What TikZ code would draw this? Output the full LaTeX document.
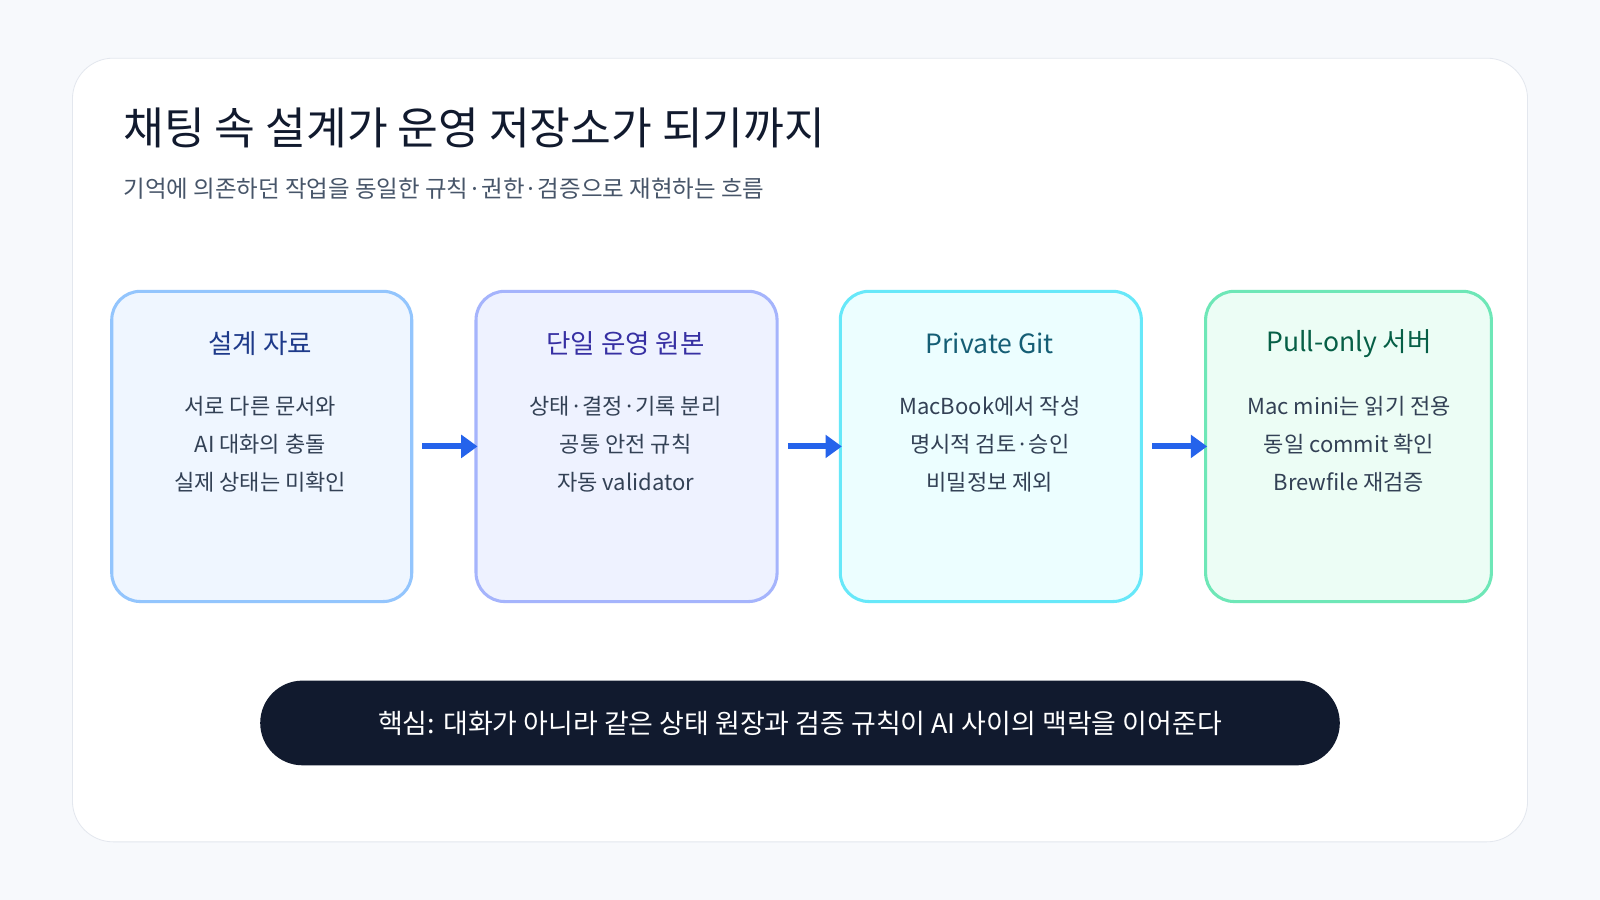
\documentclass[tikz,border=0pt]{standalone}
\usepackage{fontspec}
\setmainfont{Noto Sans CJK KR}
\usetikzlibrary{arrows.meta,positioning}
\definecolor{bg}{HTML}{F7F9FC}
\definecolor{cardline}{HTML}{E3E7EE}
\definecolor{ink}{HTML}{111A2E}
\definecolor{sub}{HTML}{475569}
\definecolor{body}{HTML}{334155}
\definecolor{flow}{HTML}{2563EB}
\definecolor{docsD}{HTML}{93C5FD}\definecolor{docsF}{HTML}{EFF6FF}\definecolor{docsH}{HTML}{1E3A8A}
\definecolor{singleD}{HTML}{A5B4FC}\definecolor{singleF}{HTML}{EEF2FF}\definecolor{singleH}{HTML}{3730A3}
\definecolor{gitD}{HTML}{67E8F9}\definecolor{gitF}{HTML}{ECFEFF}\definecolor{gitH}{HTML}{155E75}
\definecolor{pullD}{HTML}{6EE7B7}\definecolor{pullF}{HTML}{ECFDF5}\definecolor{pullH}{HTML}{065F46}
\tikzset{
  stage/.style={draw=#1D, fill=#1F, line width=1.5pt, rounded corners=14pt, anchor=north west},
  head/.style={font=\fontsize{13}{15}\selectfont, text=#1},
  bodyline/.style={font=\fontsize{10.8}{12}\selectfont, text=body},
  flowstep/.style={-{Triangle[length=8pt,width=11pt]}, line width=3pt, draw=flow, shorten <=4.5pt, shorten >=-1.5pt}
}
\begin{document}
\begin{tikzpicture}[x=0.5pt,y=-0.5pt]
\fill[bg] (0,0) rectangle (1568,882);
\useasboundingbox (0,0) rectangle (1568,882);
\draw[cardline, fill=white, rounded corners=20pt] (71,57) rectangle (1497,825);
\node[anchor=west, font=\fontsize{21.7}{24}\selectfont, text=ink] (title) at (114,125) {채팅 속 설계가 운영 저장소가 되기까지};
\node[anchor=west, font=\fontsize{11.5}{13}\selectfont, text=sub] (subtitle) at (114,185) {기억에 의존하던 작업을 동일한 규칙·권한·검증으로 재현하는 흐름};
% stage boxes
\node[stage=docs, minimum width=147pt, minimum height=152pt] (docs) at (108,284) {};
\node[stage=single, minimum width=147.5pt, minimum height=152pt] (single) at (465,284) {};
\node[stage=git, minimum width=147.5pt, minimum height=152pt] (git) at (822,284) {};
\node[stage=pull, minimum width=140pt, minimum height=152pt] (pull) at (1180,284) {};
% titles and lines
\node[head=docsH] (docsT) at (255,337) {설계 자료};
\node[bodyline] at (255,398) {서로 다른 문서와};
\node[bodyline] at (255,435) {AI 대화의 충돌};
\node[bodyline] at (255,473) {실제 상태는 미확인};
\node[head=singleH] (singleT) at (613,337) {단일 운영 원본};
\node[bodyline] at (613,398) {상태·결정·기록 분리};
\node[bodyline] at (613,435) {공통 안전 규칙};
\node[bodyline] at (613,473) {자동 validator};
\node[head=gitH] (gitT) at (970,337) {Private Git};
\node[bodyline] at (970,398) {MacBook에서 작성};
\node[bodyline] at (970,435) {명시적 검토·승인};
\node[bodyline] at (970,473) {비밀정보 제외};
\node[head=pullH] (pullT) at (1322,337) {Pull-only 서버};
\node[bodyline] at (1322,398) {Mac mini는 읽기 전용};
\node[bodyline] at (1322,435) {동일 commit 확인};
\node[bodyline] at (1322,473) {Brewfile 재검증};
% flow
\draw[flowstep] (docs) -- (single);
\draw[flowstep] (single) -- (git);
\draw[flowstep] (git) -- (pull);
% key message
\node[fill=ink, text=white, rounded corners=20.75pt, minimum width=529pt, minimum height=41.5pt,
  font=\fontsize{13.2}{15}\selectfont] (key) at (784,708.5) {핵심: 대화가 아니라 같은 상태 원장과 검증 규칙이 AI 사이의 맥락을 이어준다};
\end{tikzpicture}
\end{document}
